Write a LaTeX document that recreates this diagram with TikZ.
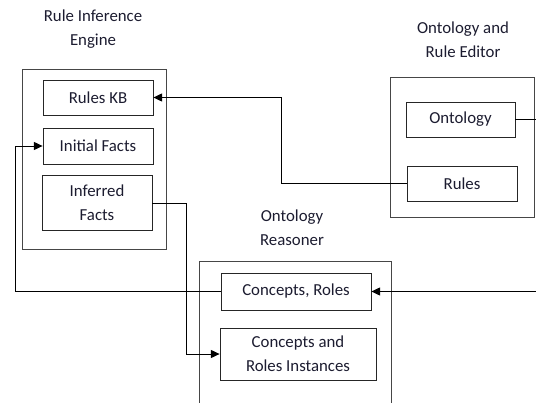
\documentclass[tikz,border=0pt]{standalone}
\usepackage{fontspec}
\setmainfont{Carlito}
\usetikzlibrary{arrows.meta}
\definecolor{txt}{RGB}{28,28,48}
\definecolor{frame}{RGB}{70,70,70}
\begin{document}
\begin{tikzpicture}[x=0.75pt,y=-0.75pt,
  every node/.style={font=\fontsize{12.6}{18}\selectfont, text=txt},
  sz/.style 2 args={minimum width=#1*0.75pt, minimum height=#2*0.75pt},
  outer/.style={draw=frame, line width=0.6pt, inner sep=0pt},
  inbox/.style={draw=black!85, line width=0.6pt, fill=white, align=center, inner sep=0pt},
  title/.style={align=center, inner sep=0pt},
  conn/.style={draw=black, line width=0.7pt},
  arr/.style={conn, -{Triangle[length=6.5pt,width=6pt]}}]
\useasboundingbox (0,0) rectangle (536,403);
\clip (0,0) rectangle (536,403);
% titles
\node[title] (t1) at (93,29) {Rule Inference\\Engine};
\node[title] (t2) at (463,40) {Ontology and\\Rule Editor};
\node[title] (t3) at (292,228) {Ontology\\Reasoner};
% outer boxes
\node[outer, sz={144}{180}] (rie) at (94,159) {};
\node[outer, sz={144}{140}] (ore) at (462,147) {};
\node[outer, sz={192}{180}] (orr) at (295,351) {};
% inner boxes
\node[inbox, sz={110}{35}] (rkb) at (98,97.5) {Rules KB};
\node[inbox, sz={110}{36}] (ifa) at (98,146) {Initial Facts};
\node[inbox, sz={110}{55}] (inf) at (97,203) {Inferred\\Facts};
\node[inbox, sz={109}{35}] (ont) at (460.5,119.5) {Ontology};
\node[inbox, sz={110}{35}] (rul) at (462,183.5) {Rules};
\node[inbox, sz={150}{37}] (cr) at (296,291.5) {Concepts, Roles};
\node[inbox, sz={156}{52}] (cri) at (298,354) {Concepts and\\Roles Instances};
% connectors
\draw[arr] (rul.west) -- (281,183.5) |- (rkb.east);
\draw[arr] (cr.west) -- (15,291.5) |- (ifa.west);
\draw[arr] (inf.east) -- (186,203) |- (cri.west);
\draw[arr] (ont.east) -- ++(40,0) |- (cr.east);
\end{tikzpicture}
\end{document}
